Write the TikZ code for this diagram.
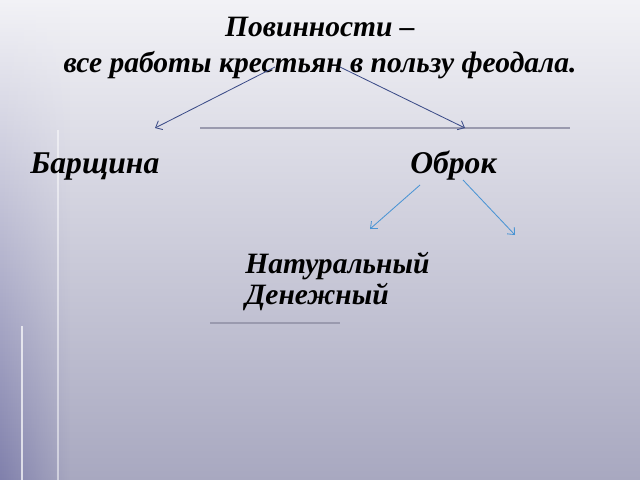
\documentclass[tikz,border=0pt]{standalone}
\usepackage{fontspec}
\setmainfont{Liberation Serif}
\usetikzlibrary{arrows.meta,fadings}
\definecolor{bgtop}{HTML}{F2F2F6}
\definecolor{bgbot}{HTML}{A8A8C0}
\definecolor{edge}{HTML}{8080AC}
\definecolor{darkarrow}{HTML}{3C4C88}
\definecolor{lightarrow}{HTML}{4A94D4}
\definecolor{deco}{HTML}{9A9AAE}
\tikzset{
  txt/.style={text=black, inner sep=0pt, anchor=base west},
  title/.style={font=\fontsize{21}{25}\selectfont\bfseries\itshape, align=center, inner sep=0pt},
  bigtxt/.style={txt, font=\fontsize{22.5}{26}\selectfont\bfseries\itshape},
  midtxt/.style={txt, font=\fontsize{21}{24}\selectfont\bfseries\itshape},
  dark/.style={draw=darkarrow, line width=0.6pt, -{Straight Barb[length=4pt,width=7pt]}},
  light/.style={draw=lightarrow, line width=0.6pt, -{Straight Barb[length=4pt,width=7pt]}},
}
\begin{document}
\begin{tikzpicture}[x=0.025cm,y=-0.025cm]
\useasboundingbox (0,0) rectangle (640,480);
% background
\shade[top color=bgtop, bottom color=bgbot] (0,0) rectangle (640,480);
\shade[top color=bgtop, middle color=bgtop!55!bgbot, bottom color=edge, path fading=east] (0,0) rectangle (70,480);
% decorative lines
\draw[deco, line width=1.5pt] (200,128) -- (570,128);
\draw[white, opacity=0.5, line width=1.2pt] (58,130) -- (58,480);
\draw[deco, line width=1.5pt] (210,323) -- (340,323);
\draw[white, opacity=0.7, line width=1.5pt] (22,326) -- (22,480);
% texts
\node[title] (tt) at (320,48) {Повинности –\\все работы крестьян в пользу феодала.};
\node[bigtxt] (b) at (30,173) {Барщина};
\node[bigtxt] (o) at (410,173) {Оброк};
\node[midtxt] (n) at (245,273) {Натуральный};
\node[midtxt] (d) at (245,304) {Денежный};
% arrow coordinates
\coordinate (s1) at (275,67);
\coordinate (e1) at (155,128);
\coordinate (s2) at (340,67);
\coordinate (e2) at (465,128);
\coordinate (s3) at (420,185);
\coordinate (e3) at (370,229);
\coordinate (s4) at (463,180);
\coordinate (e4) at (515,235);
\draw[dark] (s1) -- (e1);
\draw[dark] (s2) -- (e2);
\draw[light] (s3) -- (e3);
\draw[light] (s4) -- (e4);
\end{tikzpicture}
\end{document}
